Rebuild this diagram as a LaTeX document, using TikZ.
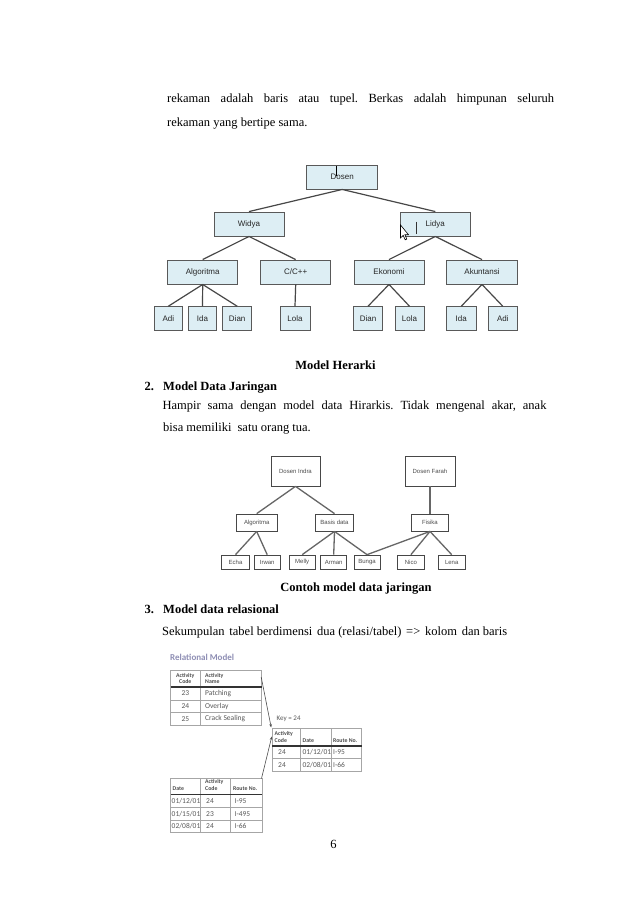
\documentclass[tikz,border=0pt]{standalone}
\usepackage{fontspec}
\setmainfont{Liberation Serif}
\newfontfamily\dsans{Liberation Sans}
\newfontfamily\csans{Carlito}
\usetikzlibrary{arrows.meta}
\definecolor{treefill}{HTML}{DDEEF4}
\definecolor{reltitle}{HTML}{8E8EB4}
\frenchspacing
\begin{document}
\begin{tikzpicture}[x=1pt,y=-1pt,
  body/.style={anchor=base west, inner sep=0, font=\fontsize{12.5}{15}\selectfont},
  tbox/.style={draw=black!65, fill=treefill, line width=0.9pt, inner sep=0, font=\dsans\fontsize{8}{9}\selectfont, text=black!85, minimum height=24pt},
  tedge/.style={draw=black!72, line width=1.2pt},
  nbox/.style={draw=black!72, fill=white, line width=0.8pt, inner sep=0, font=\dsans\fontsize{6}{6.5}\selectfont, text=black!70},
  nedge/.style={draw=black!60, line width=1.3pt},
  tgrid/.style={draw=black!35, line width=0.6pt},
  thead/.style={draw=black!80, line width=1.6pt},
  ttext/.style={font=\csans\fontsize{7.5}{8}\selectfont, text=black!65, inner sep=0},
  thtext/.style={font=\csans\bfseries\fontsize{5.8}{6}\selectfont, text=black!70, inner sep=0},
  relarrow/.style={draw=black!70, line width=0.6pt, -{Stealth[length=3.5pt,width=2.5pt]}}
]
\useasboundingbox[fill=white] (0,0) rectangle (638,903);

% ---------- body text ----------
\node[body] (l1) at (167,102) {\makebox[387pt][s]{rekaman adalah baris atau tupel. Berkas adalah himpunan seluruh}};
\node[body] (l2) at (167,126) {rekaman yang bertipe sama.};
\node[body, anchor=base, font=\bfseries\fontsize{12.5}{15}\selectfont] (cap1) at (335.5,369) {Model Herarki};
\node[body, font=\bfseries\fontsize{12.5}{15}\selectfont] (n2) at (144.3,390) {2.};
\node[body, font=\bfseries\fontsize{12.5}{15}\selectfont] (h2) at (163,390) {Model Data Jaringan};
\node[body] (l3) at (162.3,409.5) {\makebox[384pt][s]{Hampir sama dengan model data Hirarkis. Tidak mengenal akar, anak}};
\node[body] (l4) at (163,431) {bisa memiliki\hspace{6pt}satu orang tua.};
\node[body, anchor=base, font=\bfseries\fontsize{12.5}{15}\selectfont] (cap2) at (356,591) {Contoh model data jaringan};
\node[body, font=\bfseries\fontsize{12.5}{15}\selectfont] (n3) at (144.3,613) {3.};
\node[body, font=\bfseries\fontsize{12.5}{15}\selectfont] (h3) at (163,613) {Model data relasional};
\node[body] (l5) at (162,635) {\hbox to 345pt{Sekumpulan\hfill\ tabel berdimensi\hfill\ dua (relasi/tabel)\hfill\ =>\hfill\ kolom\hfill\ dan baris}};
\node[body, anchor=base] (pg) at (333.5,848) {6};

% ---------- hierarchy tree ----------
\node[tbox, minimum width=71pt] (dosen) at (342.2,177) {Dosen};
\node[tbox, minimum width=70pt] (widya) at (249,224) {Widya};
\node[tbox, minimum width=69.5pt] (lidya) at (435.3,224) {Lidya};
\node[tbox, minimum width=70pt] (algo) at (202.7,272) {Algoritma};
\node[tbox, minimum width=70pt] (cpp) at (295.7,272) {C/C++};
\node[tbox, minimum width=70pt] (eko) at (389,272) {Ekonomi};
\node[tbox, minimum width=70.6pt] (aku) at (482,272) {Akuntansi};
\node[tbox, minimum width=28.7pt] (adi1) at (168.3,318.7) {Adi};
\node[tbox, minimum width=28.4pt] (ida1) at (202.5,318.7) {Ida};
\node[tbox, minimum width=29pt] (dian1) at (237.2,318.7) {Dian};
\node[tbox, minimum width=30pt] (lola1) at (295,318.7) {Lola};
\node[tbox, minimum width=29.4pt] (dian2) at (368,318.7) {Dian};
\node[tbox, minimum width=29pt] (lola2) at (409.5,318.7) {Lola};
\node[tbox, minimum width=29.3pt] (ida2) at (461.3,318.7) {Ida};
\node[tbox, minimum width=29pt] (adi2) at (502.8,318.7) {Adi};

\draw[tedge] (dosen.south) -- (widya.north);
\draw[tedge] (dosen.south) -- (lidya.north);
\draw[tedge] (widya.south) -- (algo.north);
\draw[tedge] (widya.south) -- (cpp.north);
\draw[tedge] (lidya.south) -- (eko.north);
\draw[tedge] (lidya.south) -- (aku.north);
\draw[tedge] (algo.south) -- (adi1.north);
\draw[tedge] (algo.south) -- (ida1.north);
\draw[tedge] (algo.south) -- (dian1.north);
\draw[tedge] (cpp.south) -- (lola1.north);
\draw[tedge] (eko.south) -- (dian2.north);
\draw[tedge] (eko.south) -- (lola2.north);
\draw[tedge] (aku.south) -- (ida2.north);
\draw[tedge] (aku.south) -- (adi2.north);

% cursor marks in the screenshot
\draw[black, line width=0.9pt] (336,165.5) -- (336,176);
\draw[black!80, line width=0.8pt] (416.7,221.5) -- (416.7,233.5);
\draw[fill=white, draw=black, line width=0.6pt] (400.5,225) -- (400.5,238) -- (403.2,235.3) -- (405.2,239.8) -- (406.8,239.1) -- (404.9,234.7) -- (408.5,234.7) -- cycle;

% ---------- network model ----------
\node[nbox, minimum width=49pt, minimum height=29.3pt] (indra) at (295.5,471.3) {Dosen Indra};
\node[nbox, minimum width=50pt, minimum height=29.3pt] (farah) at (430,471.3) {Dosen Farah};
\node[nbox, minimum width=41.3pt, minimum height=17pt] (nalgo) at (256.7,522.5) {Algoritma};
\node[nbox, minimum width=37.6pt, minimum height=17pt] (basis) at (334.5,522.5) {Basis data};
\node[nbox, minimum width=36.6pt, minimum height=17pt] (fisika) at (430,522.5) {Fisika};
\node[nbox, minimum width=27.6pt, minimum height=14.3pt] (echa) at (235.5,562.2) {Echa};
\node[nbox, minimum width=25.7pt, minimum height=14.3pt] (irwan) at (267.2,562.2) {Irwan};
\node[nbox, minimum width=25.7pt, minimum height=14.3pt] (melly) at (302.2,562.2) {Melly};
\node[nbox, minimum width=26pt, minimum height=14.3pt] (arman) at (333.7,562.2) {Arman};
\node[nbox, minimum width=26pt, minimum height=14.3pt] (bunga) at (367,562.2) {Bunga};
\node[nbox, minimum width=26.3pt, minimum height=14.3pt] (nico) at (410.9,562.2) {Nico};
\node[nbox, minimum width=26.7pt, minimum height=14.3pt] (lena) at (451.7,562.2) {Lena};

\draw[nedge] (indra.south) -- (nalgo.north);
\draw[nedge] (indra.south) -- (basis.north);
\draw[nedge] (farah.south) -- (fisika.north);
\draw[nedge] (nalgo.south) -- (echa.north);
\draw[nedge] (nalgo.south) -- (irwan.north);
\draw[nedge] (basis.south) -- (melly.north);
\draw[nedge] (basis.south) -- (arman.north);
\draw[nedge] (basis.south) -- (bunga.north);
\draw[nedge] (fisika.south) -- (bunga.north);
\draw[nedge] (fisika.south) -- (nico.north);
\draw[nedge] (fisika.south) -- (lena.north);

% ---------- relational model ----------
\node[anchor=west, inner sep=0, font=\csans\bfseries\fontsize{9}{10}\selectfont, text=reltitle] (rtitle) at (170,657) {Relational Model};

% table 1
\draw[tgrid] (170.7,670) rectangle (261.7,725);
\draw[tgrid] (200,670) -- (200,725);
\draw[tgrid] (170.7,700) -- (261.7,700);
\draw[tgrid] (170.7,712.7) -- (261.7,712.7);
\draw[thead] (170.7,686.7) -- (261.7,686.7);
\node[thtext] (t1h1a) at (185.3,675.8) {Activity};
\node[thtext] (t1h1b) at (185.3,681.8) {Code};
\node[thtext, anchor=west] (t1h2a) at (205,675.8) {Activity};
\node[thtext, anchor=west] (t1h2b) at (205,681.8) {Name};
\node[ttext] (t1r1a) at (185.3,693.3) {23};
\node[ttext] (t1r2a) at (185.3,706.3) {24};
\node[ttext] (t1r3a) at (185.3,718.8) {25};
\node[ttext, anchor=west] (t1r1b) at (205,693.3) {Patching};
\node[ttext, anchor=west] (t1r2b) at (205,706.3) {Overlay};
\node[ttext, anchor=west] (t1r3b) at (205,718.8) {Crack Sealing};

% key label
\node[ttext, anchor=west, font=\csans\fontsize{7}{7}\selectfont] (key) at (276.5,719) {Key = 24};

% table 2
\draw[tgrid] (272.3,728.3) rectangle (361.7,771);
\draw[tgrid] (300.7,728.3) -- (300.7,771);
\draw[tgrid] (331.7,728.3) -- (331.7,771);
\draw[tgrid] (272.3,758.3) -- (361.7,758.3);
\draw[thead] (272.3,746) -- (361.7,746);
\node[thtext, anchor=west] (t2h1a) at (274.5,734) {Activity};
\node[thtext, anchor=west] (t2h1b) at (274.5,740.3) {Code};
\node[thtext, anchor=west] (t2h2) at (302.5,740.3) {Date};
\node[thtext, anchor=west] (t2h3) at (333,740.3) {Route No.};
\node[ttext, anchor=west] (t2r1a) at (278,752.2) {24};
\node[ttext, anchor=west] (t2r2a) at (278,764.7) {24};
\node[ttext, anchor=west] (t2r1b) at (302.3,752.2) {01/12/01};
\node[ttext, anchor=west] (t2r2b) at (302.3,764.7) {02/08/01};
\node[ttext, anchor=west] (t2r1c) at (333,752.2) {I-95};
\node[ttext, anchor=west] (t2r2c) at (333,764.7) {I-66};

% table 3
\draw[tgrid] (170.7,778.3) rectangle (262.3,832.7);
\draw[tgrid] (200.7,778.3) -- (200.7,832.7);
\draw[tgrid] (230.7,778.3) -- (230.7,832.7);
\draw[tgrid] (170.7,807.3) -- (262.3,807.3);
\draw[tgrid] (170.7,820) -- (262.3,820);
\draw[thead] (170.7,794.3) -- (262.3,794.3);
\node[thtext, anchor=west] (t3h1) at (172.5,788.5) {Date};
\node[thtext, anchor=west] (t3h2a) at (205,782.2) {Activity};
\node[thtext, anchor=west] (t3h2b) at (205,788.5) {Code};
\node[thtext, anchor=west] (t3h3) at (233,788.5) {Route No.};
\node[ttext, anchor=west] (t3r1a) at (171.5,800.8) {01/12/01};
\node[ttext, anchor=west] (t3r2a) at (171.5,813.7) {01/15/01};
\node[ttext, anchor=west] (t3r3a) at (171.5,826.4) {02/08/01};
\node[ttext, anchor=west] (t3r1b) at (206,800.8) {24};
\node[ttext, anchor=west] (t3r2b) at (206,813.7) {23};
\node[ttext, anchor=west] (t3r3b) at (206,826.4) {24};
\node[ttext, anchor=west] (t3r1c) at (234.5,800.8) {I-95};
\node[ttext, anchor=west] (t3r2c) at (234.5,813.7) {I-495};
\node[ttext, anchor=west] (t3r3c) at (234.5,826.4) {I-66};

% arrows
\coordinate (a1s) at (261.2,677);
\coordinate (a1e) at (271.2,727.5);
\coordinate (a2s) at (261.5,778.5);
\coordinate (a2e) at (271.8,736.5);
\draw[relarrow] (a1s) -- (a1e);
\draw[relarrow] (a2s) -- (a2e);
\end{tikzpicture}
\end{document}
